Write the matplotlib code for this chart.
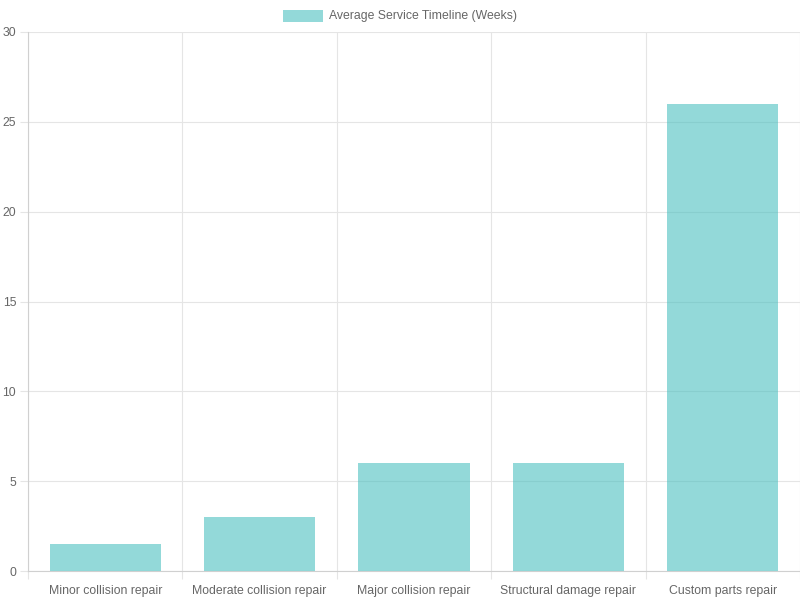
import numpy as np
import matplotlib.pyplot as plt
from matplotlib.patches import Rectangle

# data
categories = ['Minor collision repair', 'Moderate collision repair', 'Major collision repair',
              'Structural damage repair', 'Custom parts repair']
weeks = [1.5, 3, 6, 6, 26]
series_label = 'Average Service Timeline (Weeks)'
yticks = [0, 5, 10, 15, 20, 25, 30]

plt.rcParams['font.family'] = ['Liberation Sans', 'DejaVu Sans']
txt = '#666666'
grid = '#e5e5e5'
bar_fill = (75/255, 192/255, 192/255, 0.6)
fs = 8.8

fig = plt.figure(figsize=(8, 6), dpi=100)
ax = fig.add_axes([28/800, 1 - 571/600, 772/800, (571 - 32)/600])

x = np.arange(len(categories))
ax.bar(x, weeks, width=0.72, color=bar_fill, zorder=3)

ax.set_xlim(-0.5, len(categories) - 0.5)
ax.set_ylim(0, 30)

# category labels at centres, grid/ticks at boundaries
ax.set_xticks(x)
ax.set_xticklabels(categories)
ax.set_xticks(np.arange(len(categories) + 1) - 0.5, minor=True)
ax.tick_params(axis='x', which='major', length=0, pad=10, labelsize=fs, labelcolor=txt)
ax.tick_params(axis='x', which='minor', length=6, color=grid, width=0.8)
ax.set_yticks(yticks)
ax.tick_params(axis='y', length=6, color=grid, width=0.8, pad=2.5, labelsize=fs, labelcolor=txt)

ax.grid(True, axis='x', which='minor', color=grid, linewidth=0.8, zorder=0)
ax.grid(True, axis='y', which='major', color=grid, linewidth=0.8, zorder=0)
ax.set_axisbelow(True)

for s in ['top', 'right']:
    ax.spines[s].set_visible(False)
for s in ['left', 'bottom']:
    ax.spines[s].set_color('#d0d0d0')
    ax.spines[s].set_linewidth(0.8)

# legend on top, chart.js style
fig.patches.append(Rectangle((283/800, 1 - 22/600), 40/800, 12/600,
                             transform=fig.transFigure, facecolor=bar_fill, edgecolor='none'))
fig.text(329/800, 1 - 16/600, series_label, fontsize=fs, color=txt, va='center', ha='left')

fig.savefig('out.png', dpi=100)
